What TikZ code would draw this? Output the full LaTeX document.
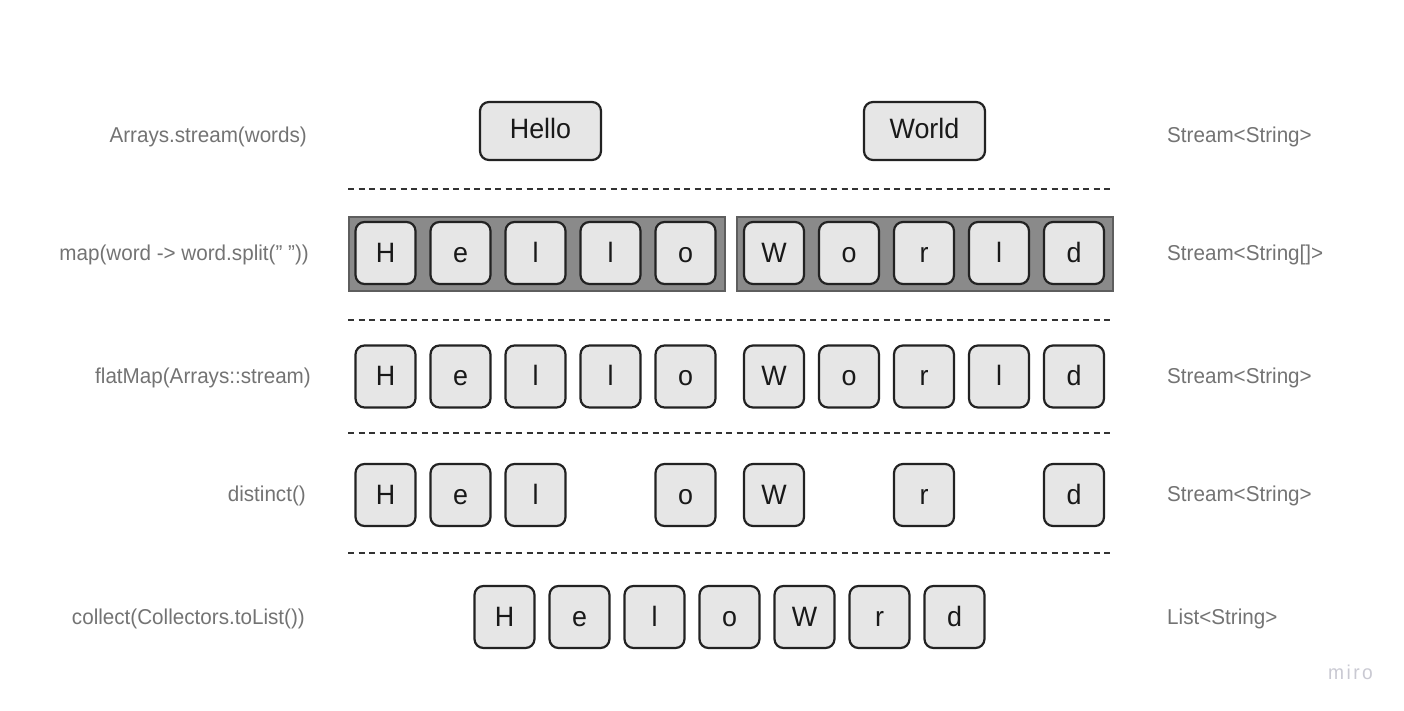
\documentclass[tikz,border=0pt]{standalone}
\usepackage{fontspec}
\setmainfont{Liberation Sans}[FakeStretch=0.96]
\definecolor{keyfill}{HTML}{E6E6E6}
\definecolor{keydraw}{HTML}{222222}
\definecolor{labgray}{HTML}{737373}
\definecolor{arrfill}{HTML}{8A8A8A}
\definecolor{arrdraw}{HTML}{5E5E5E}
\definecolor{mirogray}{HTML}{C9C9D2}
\begin{document}
\begin{tikzpicture}[x=1pt,y=-1pt,
  keybox/.style={draw=keydraw,fill=keyfill,line width=2.2pt,rounded corners=9pt,
    minimum width=60pt,minimum height=62pt,inner sep=0pt,text height=20pt,text depth=1.5pt,
    font=\fontsize{28}{30}\selectfont,text=black!90},
  wordbox/.style={keybox,minimum width=121pt,minimum height=58pt,text depth=4pt},
  arrbox/.style={draw=arrdraw,fill=arrfill,line width=2pt,minimum width=376pt,minimum height=73pt,inner sep=0pt},
  labfont/.style={text=labgray,font=\fontsize{21.5}{24}\selectfont,inner sep=0pt,text height=15.5pt,text depth=0pt},
  leftlab/.style={labfont,anchor=east},
  rightlab/.style={labfont,anchor=west},
  sep/.style={draw=black!80,line width=1.3pt,dash pattern=on 6pt off 4.5pt}]
\useasboundingbox (0,0) rectangle (1404,711);
% row 1
\node[wordbox] (hello) at (540.5,131) {Hello};
\node[wordbox] (world) at (924.5,131) {World};
% separators
\coordinate (s1a) at (348,189); \coordinate (s1b) at (1112,189);
\coordinate (s2a) at (348,320); \coordinate (s2b) at (1112,320);
\coordinate (s3a) at (348,433); \coordinate (s3b) at (1112,433);
\coordinate (s4a) at (348,553); \coordinate (s4b) at (1112,553);
\draw[sep] (s1a) -- (s1b);
\draw[sep] (s2a) -- (s2b);
\draw[sep] (s3a) -- (s3b);
\draw[sep] (s4a) -- (s4b);
% row 2
\node[arrbox] (arrA) at (536.5,254) {};
\node[arrbox] (arrB) at (924.5,254) {};
\foreach \l [count=\i] in {H,e,l,l,o}
  \node[keybox] (mA\i) at ({385.5+75*(\i-1)},253) {\l};
\foreach \l [count=\i] in {W,o,r,l,d}
  \node[keybox] (mB\i) at ({774+75*(\i-1)},253) {\l};
% row 3
\foreach \l [count=\i] in {H,e,l,l,o}
  \node[keybox] (fA\i) at ({385.5+75*(\i-1)},376.5) {\l};
\foreach \l [count=\i] in {W,o,r,l,d}
  \node[keybox] (fB\i) at ({774+75*(\i-1)},376.5) {\l};
% row 4
\node[keybox] (d1) at (385.5,495) {H};
\node[keybox] (d2) at (460.5,495) {e};
\node[keybox] (d3) at (535.5,495) {l};
\node[keybox] (d4) at (685.5,495) {o};
\node[keybox] (d5) at (774,495) {W};
\node[keybox] (d6) at (924,495) {r};
\node[keybox] (d7) at (1074,495) {d};
% row 5
\foreach \l [count=\i] in {H,e,l,o,W,r,d}
  \node[keybox] (c\i) at ({504.5+75*(\i-1)},617) {\l};
% labels
\node[leftlab] (L1) at (307,135) {Arrays.stream(words)};
\node[leftlab] (L2) at (309,253) {map(word -> word.split(" "))};
\node[leftlab] (L3) at (311,376) {flatMap(Arrays::stream)};
\node[leftlab] (L4) at (306,494) {distinct()};
\node[leftlab] (L5) at (305,617) {collect(Collectors.toList())};
\node[rightlab] (R1) at (1167,135) {Stream<String>};
\node[rightlab] (R2) at (1167,253) {Stream<String[]>};
\node[rightlab] (R3) at (1167,376) {Stream<String>};
\node[rightlab] (R4) at (1167,494) {Stream<String>};
\node[rightlab] (R5) at (1167,617) {List<String>};
\node[anchor=west,text=mirogray,font=\fontsize{20}{22}\selectfont\addfontfeature{LetterSpace=12},inner sep=0pt] (miro) at (1328,672) {miro};
\end{tikzpicture}
\end{document}
